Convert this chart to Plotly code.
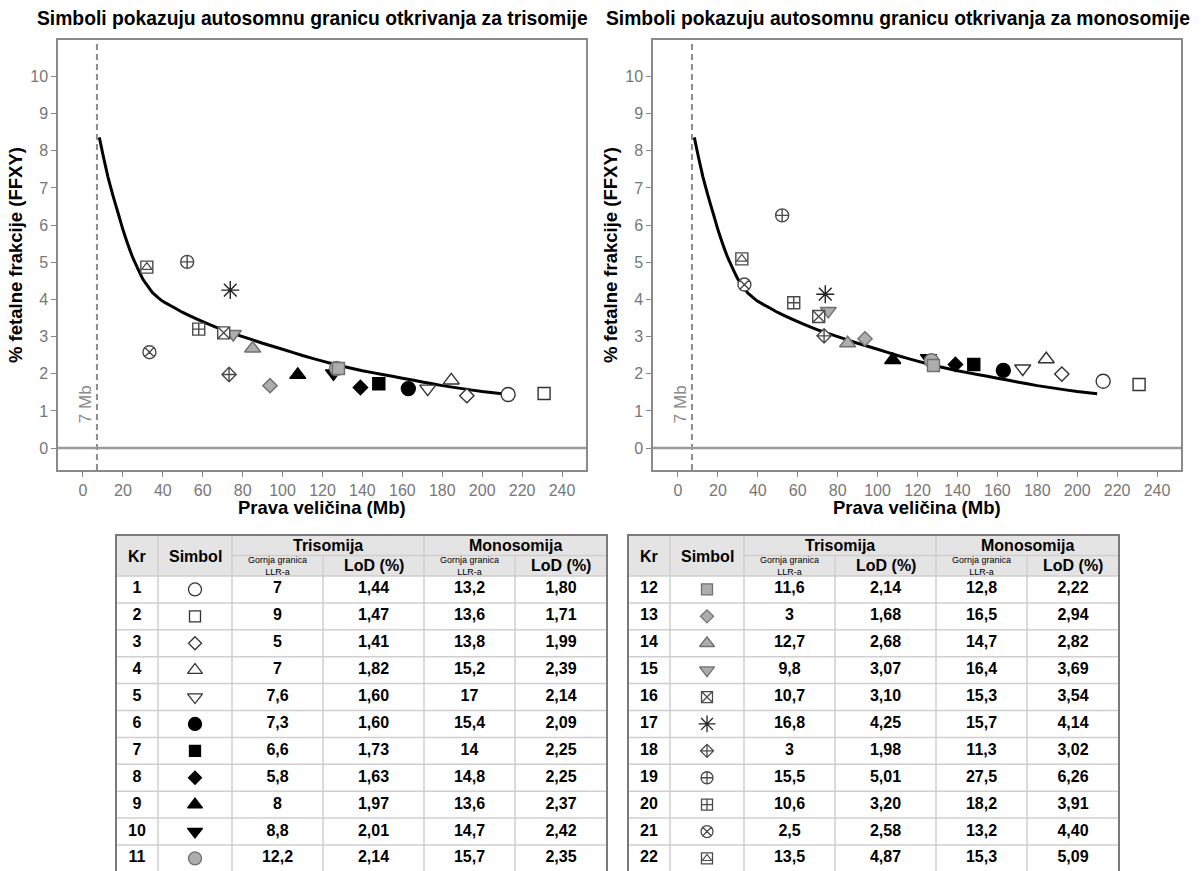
import plotly.graph_objects as go

W, H = 1201, 871

# ---------------- data ----------------
chromosomes = list(range(1, 23))
size_mb = [213, 231, 192.3, 184.5, 172.7, 163, 148.2, 139, 107.6, 125.5, 127,
           128, 93.7, 85, 75.3, 70.5, 73.8, 73.2, 52.2, 58, 33.3, 32]
tri_llr = [7, 9, 5, 7, 7.6, 7.3, 6.6, 5.8, 8, 8.8, 12.2, 11.6, 3, 12.7, 9.8,
           10.7, 16.8, 3, 15.5, 10.6, 2.5, 13.5]
tri_lod = [1.44, 1.47, 1.41, 1.82, 1.60, 1.60, 1.73, 1.63, 1.97, 2.01, 2.14,
           2.14, 1.68, 2.68, 3.07, 3.10, 4.25, 1.98, 5.01, 3.20, 2.58, 4.87]
mono_llr = [13.2, 13.6, 13.8, 15.2, 17, 15.4, 14, 14.8, 13.6, 14.7, 15.7,
            12.8, 16.5, 14.7, 16.4, 15.3, 15.7, 11.3, 27.5, 18.2, 13.2, 15.3]
mono_lod = [1.80, 1.71, 1.99, 2.39, 2.14, 2.09, 2.25, 2.25, 2.37, 2.42, 2.35,
            2.22, 2.94, 2.82, 3.69, 3.54, 4.14, 3.02, 6.26, 3.91, 4.40, 5.09]
curve_x = [8.2, 10, 12.5, 15, 18, 20, 25, 30, 35, 40, 45, 50, 60, 70, 80, 90,
           100, 110, 120, 130, 140, 150, 160, 170, 180, 190, 200, 210]
curve_y = [8.36, 7.9, 7.3, 6.8, 6.25, 5.88, 5.12, 4.55, 4.17, 3.95, 3.8, 3.65,
           3.4, 3.18, 3.0, 2.82, 2.66, 2.49, 2.34, 2.2, 2.08, 1.98, 1.88, 1.78,
           1.68, 1.6, 1.52, 1.46]
x_ticks = list(range(0, 241, 20))
y_ticks = list(range(0, 11))
limit_mb = 7
limit_label = "7 Mb"

titles = ["Simboli pokazuju autosomnu granicu otkrivanja za trisomije",
          "Simboli pokazuju autosomnu granicu otkrivanja za monosomije"]
x_title = "Prava veličina (Mb)"
y_title = "% fetalne frakcije (FFXY)"

# ---------------- styles ----------------
FONT = "Liberation Sans, Arial, Helvetica, sans-serif"
GRAY_FILL = "#adadad"
GRAY_LINE = "#707070"
DARK = "#333333"
SPEC = "#4a4a4a"
symbols = ["circle", "square", "diamond", "triangle-up", "triangle-down",
           "circle", "square", "diamond", "triangle-up", "triangle-down",
           "circle", "square", "diamond", "triangle-up", "triangle-down",
           "square-x", "asterisk", "diamond-cross", "circle-cross",
           "square-cross", "circle-x", "square"]
fills = ["white"] * 5 + ["#000000"] * 5 + [GRAY_FILL] * 5 + ["white"] * 7
lines = [DARK] * 5 + ["#000000"] * 5 + [GRAY_LINE] * 5 + [SPEC] * 7
lines[16] = "#222222"
fills[16] = "#222222"
size_by_symbol = {"circle": 14, "square": 12, "diamond": 11, "triangle-up": 14,
                  "triangle-down": 14, "square-x": 12, "asterisk": 15,
                  "diamond-cross": 11, "circle-cross": 13, "square-cross": 12,
                  "circle-x": 13}
sizes = [size_by_symbol[s] for s in symbols]
table_sizes = [s - 1 for s in sizes]

fig = go.Figure()

plots = [dict(x0=58, x1=586, ax="x", ay="y", lod=tri_lod),
         dict(x0=653, x1=1181, ax="x2", ay="y2", lod=mono_lod)]
PY0, PY1 = 40, 470
XR = [-12.5, 252]
YR = [-0.59, 10.98]

for p in plots:
    fig.add_trace(go.Scatter(x=curve_x, y=curve_y, mode="lines",
                             line=dict(color="black", width=3, shape="spline", smoothing=0.3),
                             xaxis=p["ax"], yaxis=p["ay"], hoverinfo="skip"))
    fig.add_trace(go.Scatter(x=size_mb, y=p["lod"], mode="markers",
                             marker=dict(symbol=symbols, color=fills, size=sizes, opacity=1,
                                         line=dict(color=lines, width=1.4)),
                             xaxis=p["ax"], yaxis=p["ay"], text=chromosomes))
    fig.add_trace(go.Scatter(x=[size_mb[21]], y=[p["lod"][21]], mode="markers",
                             marker=dict(symbol="triangle-up-open", color=SPEC, size=9,
                                         line=dict(color=SPEC, width=1.2)),
                             xaxis=p["ax"], yaxis=p["ay"]))

axis_common = dict(range=XR, tickvals=x_ticks, ticks="outside", ticklen=5,
                   tickcolor="#888", tickwidth=1, showline=True, linecolor="#8a8a8a",
                   linewidth=1.5, mirror=True, showgrid=False, zeroline=False,
                   tickfont=dict(family=FONT, size=16, color="#777"))
yaxis_common = dict(range=YR, tickvals=y_ticks, ticks="outside", ticklen=5,
                    tickcolor="#888", tickwidth=1, showline=True, linecolor="#8a8a8a",
                    linewidth=1.5, mirror=True, showgrid=False, zeroline=False,
                    tickfont=dict(family=FONT, size=16, color="#777"))
ydom = [1 - PY1 / H, 1 - PY0 / H]

layout = dict(
    width=W, height=H, margin=dict(l=0, r=0, t=0, b=0),
    paper_bgcolor="white", plot_bgcolor="rgba(0,0,0,0)", showlegend=False,
    xaxis=dict(domain=[58 / W, 586 / W], anchor="y", **axis_common),
    yaxis=dict(domain=ydom, anchor="x", **yaxis_common),
    xaxis2=dict(domain=[653 / W, 1181 / W], anchor="y2", **axis_common),
    yaxis2=dict(domain=ydom, anchor="x2", **yaxis_common),
    xaxis3=dict(domain=[0, 1], range=[0, W], visible=False, anchor="y3", fixedrange=True),
    yaxis3=dict(domain=[0, 1], range=[H, 0], visible=False, anchor="x3", fixedrange=True),
)
fig.update_layout(**layout)

shapes = []
annotations = []


def ann(**kw):
    kw.setdefault("xanchor", "center")
    kw.setdefault("yanchor", "middle")
    kw.setdefault("showarrow", False)
    annotations.append(kw)


for i, p in enumerate(plots):
    ax, ay = p["ax"], p["ay"]
    shapes.append(dict(type="line", xref=ax, yref=f"{ay} domain", x0=limit_mb, x1=limit_mb,
                       y0=0, y1=1, line=dict(color="#8c8c8c", width=2, dash="6px,4px")))
    shapes.append(dict(type="line", xref=f"{ax} domain", yref=ay, x0=0, x1=1, y0=0, y1=0,
                       line=dict(color="#9a9a9a", width=2.5)))
    ann(x=1.0, y=1.18, xref=ax, yref=ay, text=limit_label, textangle=-90,
        font=dict(family=FONT, size=17, color="#888"))
    cx = (p["x0"] + p["x1"]) / 2
    ann(x=cx / W, y=1 - 507 / H, xref="paper", yref="paper", text=f"<b>{x_title}</b>",
        font=dict(family=FONT, size=18.5, color="black"))
    ann(x=(p["x0"] - 42) / W, y=1 - 255 / H, xref="paper", yref="paper",
        text=f"<b>{y_title}</b>", textangle=-90,
        font=dict(family=FONT, size=18.5, color="black"))
    tx = [312, 898][i]
    ann(x=tx / W, y=1 - 18 / H, xref="paper", yref="paper", text=f"<b>{titles[i]}</b>",
        font=dict(family=FONT, size=19.3, color="black"))

# ---------------- tables ----------------
col_w = [42, 74, 91, 101, 91, 92]
Y_TOP, Y_H1, Y_H2, ROW_H = 535, 555.5, 576, 26.9
GRID = "#cfcfcf"


def fmt_llr(v):
    return f"{v:g}".replace(".", ",")


def fmt_lod(v):
    return f"{v:.2f}".replace(".", ",")


def add_table(x0, idx):
    cols = [x0]
    for w in col_w:
        cols.append(cols[-1] + w)
    n = len(idx)
    y_bot = Y_H2 + ROW_H * n
    shapes.append(dict(type="rect", xref="x3", yref="y3", x0=cols[0], x1=cols[-1],
                       y0=Y_TOP, y1=Y_H2, fillcolor="#e4e4e4", line=dict(width=0), layer="below"))
    for r in range(n + 1):
        y = Y_H2 + r * ROW_H
        shapes.append(dict(type="line", xref="x3", yref="y3", x0=cols[0], x1=cols[-1],
                           y0=y, y1=y, line=dict(color=GRID, width=1.5)))
    shapes.append(dict(type="line", xref="x3", yref="y3", x0=cols[2], x1=cols[-1],
                       y0=Y_H1, y1=Y_H1, line=dict(color=GRID, width=1.5)))
    for c in (1, 2, 4):
        shapes.append(dict(type="line", xref="x3", yref="y3", x0=cols[c], x1=cols[c],
                           y0=Y_TOP, y1=y_bot, line=dict(color=GRID, width=1.5)))
    for c in (3, 5):
        shapes.append(dict(type="line", xref="x3", yref="y3", x0=cols[c], x1=cols[c],
                           y0=Y_H1, y1=y_bot, line=dict(color=GRID, width=1.5)))
    shapes.append(dict(type="rect", xref="x3", yref="y3", x0=cols[0], x1=cols[-1],
                       y0=Y_TOP, y1=y_bot + 5, line=dict(color="#7a7a7a", width=2)))
    centers = [(cols[k] + cols[k + 1]) / 2 for k in range(6)]
    hfont = dict(family=FONT, size=16, color="black")
    for txt, xc, yc in [("Kr", centers[0], (Y_TOP + Y_H2) / 2 + 1),
                        ("Simbol", centers[1], (Y_TOP + Y_H2) / 2 + 1),
                        ("Trisomija", (cols[2] + cols[4]) / 2, (Y_TOP + Y_H1) / 2),
                        ("Monosomija", (cols[4] + cols[6]) / 2, (Y_TOP + Y_H1) / 2),
                        ("LoD (%)", centers[3], (Y_H1 + Y_H2) / 2),
                        ("LoD (%)", centers[5], (Y_H1 + Y_H2) / 2)]:
        ann(x=xc, y=yc, xref="x3", yref="y3", text=f"<b>{txt}</b>", font=hfont)
    for c in (2, 4):
        ann(x=centers[c], y=(Y_H1 + Y_H2) / 2, xref="x3", yref="y3",
            text="Gornja granica<br>LLR-a", font=dict(family=FONT, size=9, color="black"))
    ys = [Y_H2 + ROW_H * (r + 0.5) for r in range(n)]
    columns = [
        [str(chromosomes[i]) for i in idx],
        [fmt_llr(tri_llr[i]) for i in idx],
        [fmt_lod(tri_lod[i]) for i in idx],
        [fmt_llr(mono_llr[i]) for i in idx],
        [fmt_lod(mono_lod[i]) for i in idx],
    ]
    for col_idx, vals in zip((0, 2, 3, 4, 5), columns):
        fig.add_trace(go.Scatter(x=[centers[col_idx]] * n, y=ys, mode="text", text=vals,
                                 textposition="middle center",
                                 textfont=dict(family=FONT, size=16, color="black"),
                                 texttemplate="<b>%{text}</b>",
                                 xaxis="x3", yaxis="y3", hoverinfo="skip"))
    fig.add_trace(go.Scatter(x=[centers[1]] * n, y=ys, mode="markers",
                             marker=dict(symbol=[symbols[i] for i in idx],
                                         color=[fills[i] for i in idx],
                                         size=[table_sizes[i] for i in idx], opacity=1,
                                         line=dict(color=[lines[i] for i in idx], width=1.3)),
                             xaxis="x3", yaxis="y3", hoverinfo="skip"))
    if 21 in idx:
        r = idx.index(21)
        fig.add_trace(go.Scatter(x=[centers[1]], y=[ys[r]], mode="markers",
                                 marker=dict(symbol="triangle-up-open", color=SPEC, size=8,
                                             line=dict(color=SPEC, width=1.1)),
                                 xaxis="x3", yaxis="y3", hoverinfo="skip"))


add_table(116, list(range(0, 11)))
add_table(628, list(range(11, 22)))

fig.update_layout(shapes=shapes, annotations=annotations)
fig.write_html("out.html", config={"displayModeBar": False},
               post_script="document.body.style.margin='0';document.body.style.overflow='hidden';")
